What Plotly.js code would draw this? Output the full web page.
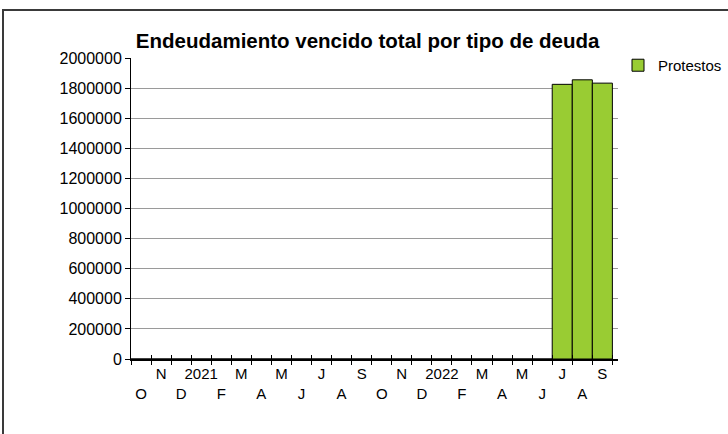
<!DOCTYPE html>
<html>
<head>
<meta charset="utf-8">
<script src="https://cdn.plot.ly/plotly-3.0.1.min.js"></script>
<style>
  html, body { margin: 0; padding: 0; background: #fff; }
  #frame { position: absolute; left: 0; top: 0; width: 728px; height: 434px; overflow: hidden; }
  #border { position: absolute; left: 2px; top: 9px; width: 740px; height: 423px;
            border-left: 2px solid #3a3a3a; border-top: 2px solid #3a3a3a; border-bottom: 1px solid #e6e6e6; pointer-events: none; }
  #chart { position: absolute; left: 0; top: 0; width: 728px; height: 434px; }
</style>
</head>
<body>
<div id="frame">
  <div id="chart"></div>
  <div id="border"></div>
</div>
<script>
// ---- data ----
const months = ["2020-10","2020-11","2020-12","2021-01","2021-02","2021-03","2021-04","2021-05",
                "2021-06","2021-07","2021-08","2021-09","2021-10","2021-11","2021-12","2022-01",
                "2022-02","2022-03","2022-04","2022-05","2022-06","2022-07","2022-08","2022-09"];
const tickLabels = ["O","N","D","2021","F","M","A","M","J","J","A","S",
                    "O","N","D","2022","F","M","A","M","J","J","A","S"];
const protestos = [0,0,0,0,0,0,0,0,0,0,0,0,0,0,0,0,0,0,0,0,0,1825000,1855000,1833000];
const seriesName = "Protestos";
const chartTitle = "Endeudamiento vencido total por tipo de deuda";

// two-row labels: even index -> lower row, odd index -> upper row
const tickText = tickLabels.map((t, i) => (i % 2 === 0 ? "<br>" + t : t));

const FONT = "Liberation Sans, Arial, sans-serif";
const xr = [-0.5, 23.78];

const traces = [
  {
    type: "bar",
    x: months,
    y: protestos,
    name: seriesName,
    marker: { color: "#99cc33", line: { color: "#000", width: 1 } },
    hoverinfo: "x+y"
  },
  {
    type: "bar",
    x: months,
    y: protestos.map(() => null),
    xaxis: "x2",
    showlegend: false,
    hoverinfo: "skip"
  }
];

const layout = {
  width: 728,
  height: 434,
  margin: { l: 131, r: 110, t: 58, b: 75, autoexpand: false },
  paper_bgcolor: "#fff",
  plot_bgcolor: "#fff",
  bargap: 0,
  font: { family: FONT, size: 16, color: "#000" },
  title: {
    text: chartTitle,
    font: { family: FONT, size: 20.5, color: "#000", weight: "bold" },
    x: 0.505, xref: "container", xanchor: "center",
    y: 0.907, yref: "container", yanchor: "middle"
  },
  xaxis: {
    type: "category",
    categoryorder: "array",
    categoryarray: months,
    range: xr,
    tickmode: "array",
    tickvals: months,
    ticktext: tickText,
    tickangle: 0,
    tickson: "boundaries",
    ticks: "outside",
    ticklen: 4,
    tickwidth: 1,
    tickcolor: "#000",
    showline: true,
    linecolor: "#000",
    linewidth: 2,
    showgrid: false,
    zeroline: false,
    tickfont: { family: FONT, size: 15, color: "#000" },
    fixedrange: true
  },
  xaxis2: {
    type: "category",
    overlaying: "x",
    anchor: "y",
    side: "bottom",
    categoryorder: "array",
    categoryarray: months,
    range: xr,
    tickmode: "array",
    tickvals: months,
    tickson: "boundaries",
    ticks: "inside",
    ticklen: 4,
    tickwidth: 1,
    tickcolor: "#000",
    showticklabels: false,
    showline: false,
    showgrid: false,
    zeroline: false,
    fixedrange: true
  },
  yaxis: {
    range: [0, 2000000],
    tickmode: "linear",
    tick0: 0,
    dtick: 200000,
    tickformat: "d",
    ticks: "outside",
    ticklen: 5,
    tickcolor: "#000",
    showline: true,
    linecolor: "#000",
    linewidth: 1,
    showgrid: true,
    gridcolor: "#9a9a9a",
    gridwidth: 1,
    zeroline: false,
    tickfont: { family: FONT, size: 16, color: "#000" },
    fixedrange: true
  },
  showlegend: true,
  legend: {
    x: 1.0, xref: "paper", xanchor: "left",
    y: 1.03, yanchor: "top",
    bgcolor: "rgba(0,0,0,0)",
    font: { family: FONT, size: 15, color: "#000" },
    itemclick: false
  }
};

Plotly.newPlot("chart", traces, layout, { displayModeBar: false, staticPlot: true });
</script>
</body>
</html>
